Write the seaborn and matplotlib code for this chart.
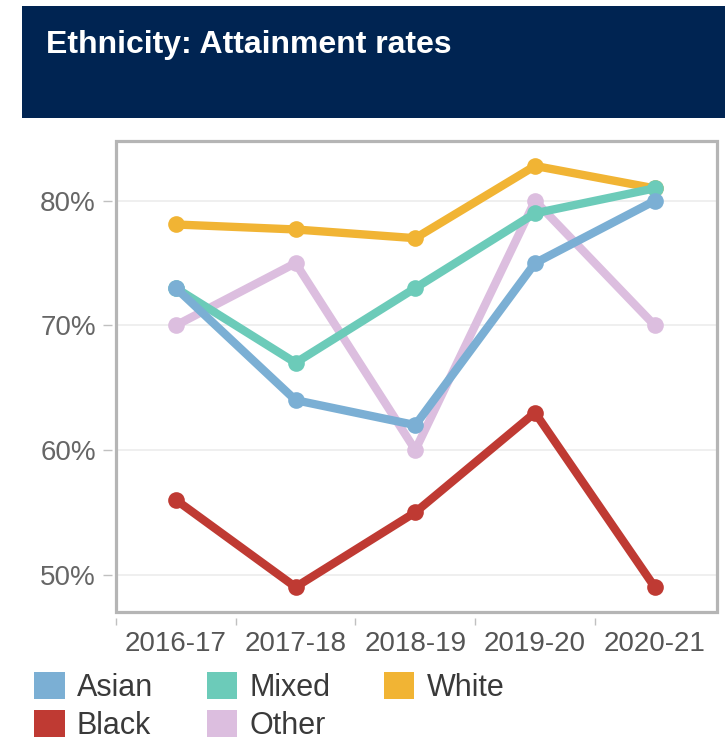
import pandas as pd
import seaborn as sns
import matplotlib.pyplot as plt
from matplotlib.patches import Patch, Rectangle

# Attainment rates by ethnicity (percent)
years = ['2016-17', '2017-18', '2018-19', '2019-20', '2020-21']
asian = [73, 64, 62, 75, 80]
mixed = [73, 67, 73, 79, 81]
white = [78.1, 77.7, 77, 82.8, 81]
black = [56, 49, 55, 63, 49]
other = [70, 75, 60, 80, 70]

colors = {
    'Asian': '#7bafd4',
    'Mixed': '#6ccbb9',
    'White': '#f1b434',
    'Black': '#bf3a33',
    'Other': '#dcbedf',
}

# Build long-form table for seaborn
series = {'Asian': asian, 'Mixed': mixed, 'White': white, 'Black': black, 'Other': other}
rows = []
for name, vals in series.items():
    for i, v in enumerate(vals):
        rows.append({'idx': i, 'year': years[i], 'group': name, 'rate': v})
df = pd.DataFrame(rows)

sns.set_style('white')
plt.rcParams['font.family'] = ['Liberation Sans', 'DejaVu Sans']

fig = plt.figure(figsize=(7.25, 7.45), dpi=100)

# Title banner
fig.patches.append(Rectangle((22 / 725, 1 - 118 / 745), 1 - 22 / 725, 112 / 745,
                             transform=fig.transFigure, facecolor='#002452',
                             edgecolor='none', zorder=0))
fig.text(46 / 725, 1 - 45 / 745, 'Ethnicity: Attainment rates', color='white',
         fontsize=23, fontweight='bold', va='center', ha='left')

ax = fig.add_axes([116 / 725, 1 - 612 / 745, 601 / 725, 471 / 745])

# draw order: later ones on top
draw_order = ['Other', 'Black', 'White', 'Mixed', 'Asian']
sns.lineplot(data=df, x='idx', y='rate', hue='group', hue_order=draw_order,
             palette=colors, marker='o', markersize=12, markeredgewidth=0,
             linewidth=6, legend=False, ax=ax)

ax.set_xlim(-0.47, 4.52)
ax.set_ylim(47.0, 84.8)
ax.set_xlabel('')
ax.set_ylabel('')

# grid + box
ax.set_yticks([50, 60, 70, 80])
ax.set_yticklabels(['50%', '60%', '70%', '80%'])
ax.yaxis.grid(True, color='#ececec', linewidth=1.2)
ax.set_axisbelow(True)
ax.add_patch(Rectangle((0, 0), 1, 1, transform=ax.transAxes, fill=False,
                       edgecolor='#b5b5b5', linewidth=2.3, clip_on=False, zorder=5))

for s in ax.spines.values():
    s.set_visible(False)
ax.spines['left'].set_position(('outward', 3))
ax.spines['bottom'].set_position(('outward', 4))

ax.tick_params(axis='y', which='major', length=6.5, width=1, color='#c0c0c0',
               labelsize=20, labelcolor='#666666', pad=5, left=True)

ax.set_xticks(range(len(years)))
ax.set_xticklabels(years)
ax.set_xticks([-0.5, 0.5, 1.5, 2.5, 3.5], minor=True)
ax.tick_params(axis='x', which='major', length=0, labelsize=20,
               labelcolor='#555555', pad=10)
ax.tick_params(axis='x', which='minor', length=5, width=1, color='#c0c0c0', bottom=True)

# Legend with square patches, row-major order
legend_order = ['Asian', 'Black', 'Mixed', 'Other', 'White']
handles = [Patch(facecolor=colors[n], edgecolor='none', label=n) for n in legend_order]
fig.legend(handles=handles, loc='upper left', bbox_to_anchor=(34 / 725, 1 - 672 / 745),
           ncol=3, frameon=False, fontsize=22, handlelength=1.0, handleheight=1.0,
           handletextpad=0.4, columnspacing=1.75, labelspacing=0.22,
           borderpad=0, borderaxespad=0, labelcolor='#3a3a3a')

fig.savefig('out.png', dpi=100)
